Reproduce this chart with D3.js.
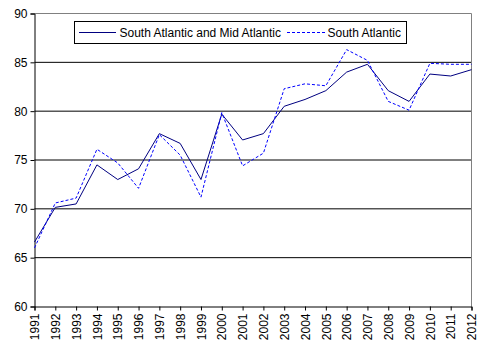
<!DOCTYPE html>
<html><head><meta charset="utf-8">
<script src="https://cdn.jsdelivr.net/npm/d3@7"></script>
<style>
body{margin:0;background:#fff;}
text{font-family:"Liberation Sans",Arial,sans-serif;font-size:12px;fill:#000;}
</style></head>
<body><svg id="c" width="484" height="347"></svg>
<script>
const years = [1991,1992,1993,1994,1995,1996,1997,1998,1999,2000,2001,2002,2003,2004,2005,2006,2007,2008,2009,2010,2011,2012];
const southMid = [66.6,70.15,70.5,74.5,73.0,74.1,77.7,76.7,73.0,79.7,77.05,77.7,80.5,81.2,82.1,84.0,84.8,82.1,81.0,83.8,83.6,84.25];
const southAtl = [66.0,70.6,71.1,76.1,74.7,72.1,77.6,75.5,71.2,79.85,74.4,75.7,82.3,82.8,82.6,86.3,85.2,81.0,80.1,84.9,84.8,84.8];
const yTicks = [60,65,70,75,80,85,90];
const seriesNames = ["South Atlantic and Mid Atlantic","South Atlantic"];

const svg = d3.select("#c");
const L = 34.5, R = 471.5, T = 13.5, B = 306.5;
const x = d3.scaleLinear().domain([1991,2012]).range([L,R]);
const y = d3.scaleLinear().domain([60,90]).range([B,T]);

// gridlines
svg.append("g").selectAll("line").data(yTicks.filter(v=>v>60 && v<90)).join("line")
  .attr("x1",L).attr("x2",R).attr("y1",d=>y(d)).attr("y2",d=>y(d))
  .attr("stroke","#000").attr("stroke-width",1);
// plot border top/right gray
svg.append("path").attr("d",`M${L},${T}H${R}V${B}`).attr("fill","none").attr("stroke","#808080").attr("stroke-width",1);

// axes
const yAxis = svg.append("g").attr("transform",`translate(${L},0)`)
  .call(d3.axisLeft(y).tickValues(yTicks).tickSize(4).tickPadding(3).tickFormat(d3.format("d")));
const xAxis = svg.append("g").attr("transform",`translate(0,${B})`)
  .call(d3.axisBottom(x).tickValues(years).tickSize(4).tickFormat(d3.format("d")));
[yAxis,xAxis].forEach(a=>{
  a.select(".domain").attr("stroke","#000");
  a.selectAll(".tick line").attr("stroke","#000");
  a.selectAll("text").attr("fill","#000").style("font-family",'"Liberation Sans",Arial,sans-serif').style("font-size","12px");
});
xAxis.selectAll("text")
  .attr("transform","rotate(-90)")
  .attr("text-anchor","end")
  .attr("x",-7).attr("y",0).attr("dy","0.35em");

// lines
const line = d3.line().x((d,i)=>x(years[i])).y(d=>y(d));
svg.append("path").datum(southMid).attr("d",line).attr("fill","none").attr("stroke","#000080").attr("stroke-width",1);
svg.append("path").datum(southAtl).attr("d",line).attr("fill","none").attr("stroke","#0000FF").attr("stroke-width",1).attr("stroke-dasharray","3,2");

// legend
const lg = svg.append("g");
lg.append("rect").attr("x",74.5).attr("y",21.5).attr("width",332).attr("height",22).attr("fill","#fff").attr("stroke","#000").attr("stroke-width",1);
lg.append("line").attr("x1",79).attr("x2",116).attr("y1",32.5).attr("y2",32.5).attr("stroke","#000080");
lg.append("text").attr("x",119.5).attr("y",36.5).text(seriesNames[0]);
lg.append("line").attr("x1",287).attr("x2",325).attr("y1",32.5).attr("y2",32.5).attr("stroke","#0000FF").attr("stroke-dasharray","3,2");
lg.append("text").attr("x",327.5).attr("y",36.5).text(seriesNames[1]);
</script></body></html>
